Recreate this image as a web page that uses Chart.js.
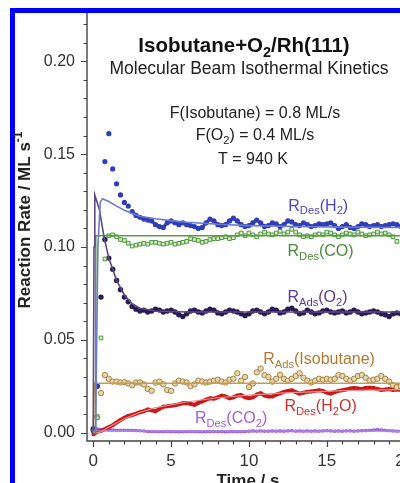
<!DOCTYPE html>
<html>
<head>
<meta charset="utf-8">
<script src="https://cdn.jsdelivr.net/npm/chart.js@4/dist/chart.umd.min.js"></script>
<style>
  html, body { margin: 0; padding: 0; background: #fff; }
  #c { display: block; }
</style>
</head>
<body>
<canvas id="c" width="400" height="483"></canvas>
<script>
// time axis (s), one sample every 0.25 s
const time = [
  0, 0.25, 0.5, 0.75, 1, 1.25, 1.5, 1.75,
  2, 2.25, 2.5, 2.75, 3, 3.25, 3.5, 3.75,
  4, 4.25, 4.5, 4.75, 5, 5.25, 5.5, 5.75,
  6, 6.25, 6.5, 6.75, 7, 7.25, 7.5, 7.75,
  8, 8.25, 8.5, 8.75, 9, 9.25, 9.5, 9.75,
  10, 10.25, 10.5, 10.75, 11, 11.25, 11.5, 11.75,
  12, 12.25, 12.5, 12.75, 13, 13.25, 13.5, 13.75,
  14, 14.25, 14.5, 14.75, 15, 15.25, 15.5, 15.75,
  16, 16.25, 16.5, 16.75, 17, 17.25, 17.5, 17.75,
  18, 18.25, 18.5, 18.75, 19, 19.25, 19.5, 19.75
];

// measured rates (ML/s)
const rDesH2 = [
  0.001, 0.025, null, 0.146, 0.161, 0.142, 0.134, 0.128,
  0.124, 0.122, 0.119, 0.117, 0.116, 0.115, 0.1145, 0.114,
  0.112, 0.111, 0.1105, 0.113, 0.114, 0.113, 0.112, 0.113,
  0.112, 0.1115, 0.111, 0.110, 0.1105, 0.113, 0.115, 0.114,
  0.112, 0.1115, 0.112, 0.114, 0.1155, 0.114, 0.112, 0.111,
  0.1115, 0.113, 0.1145, 0.113, 0.111, 0.1115, 0.113, 0.1125,
  0.111, 0.112, 0.114, 0.1135, 0.112, 0.1115, 0.113, 0.112,
  0.111, 0.1115, 0.1125, 0.112, 0.1125, 0.113, 0.1115, 0.110,
  0.111, 0.112, 0.1105, 0.110, 0.111, 0.1125, 0.112, 0.111,
  0.1115, 0.112, 0.111, 0.1115, 0.112, 0.1125, 0.112, 0.111
];
const rDesCO = [
  null, 0.008, 0.051, 0.0935, 0.106, 0.1065, 0.1055, 0.104,
  0.1035, 0.102, 0.1005, 0.101, 0.1015, 0.102, 0.1015, 0.1025,
  0.1025, 0.102, 0.1015, 0.102, 0.1025, 0.1015, 0.102, 0.1025,
  0.103, 0.1045, 0.104, 0.1035, 0.1025, 0.103, 0.104, 0.1045,
  0.1045, 0.105, 0.1055, 0.1045, 0.105, 0.1065, 0.1075, 0.106,
  0.1075, 0.1065, 0.1055, 0.107, 0.108, 0.107, 0.1065, 0.1075,
  0.1085, 0.107, 0.108, 0.1095, 0.108, 0.1065, 0.1055, 0.106,
  0.1055, 0.1065, 0.107, 0.1065, 0.108, 0.1075, 0.1065, 0.1055,
  0.1065, 0.1075, 0.107, 0.1065, 0.108, 0.107, 0.106, 0.1065,
  0.107, 0.108, 0.107, 0.1075, 0.1065, 0.1055, 0.103, null
];
const rAdsO2 = [
  0.002, 0.025, 0.073, 0.104, 0.094, 0.088, 0.082, 0.077,
  0.073, 0.0705, 0.068, 0.0665, 0.0655, 0.066, 0.065, 0.0655,
  0.0665, 0.066, 0.065, 0.0655, 0.066, 0.065, 0.0635, 0.0625,
  0.064, 0.0655, 0.066, 0.065, 0.0645, 0.0655, 0.0665, 0.066,
  0.0645, 0.064, 0.065, 0.066, 0.0655, 0.065, 0.064, 0.063,
  0.064, 0.0655, 0.066, 0.065, 0.064, 0.065, 0.0665, 0.066,
  0.0645, 0.065, 0.0665, 0.067, 0.0655, 0.064, 0.0645, 0.066,
  0.065, 0.064, 0.0645, 0.0655, 0.066, 0.065, 0.0645, 0.065,
  0.0655, 0.0645, 0.065, 0.066, 0.065, 0.064, 0.0645, 0.065,
  0.0655, 0.065, 0.064, 0.0635, 0.0625, 0.064, 0.0645, 0.064
];
const rAdsIso = [
  null, 0.0085, 0.0213, 0.031, 0.029, 0.0275, 0.0275, 0.027,
  0.0272, 0.0265, 0.0255, 0.027, 0.027, 0.026, 0.0235, 0.0225,
  0.027, 0.0275, 0.026, 0.023, 0.0225, 0.0265, 0.028, 0.0275,
  0.027, 0.025, 0.026, 0.028, 0.0275, 0.027, 0.0275, 0.028,
  0.0285, 0.0275, 0.027, 0.0285, 0.029, 0.032, 0.028, 0.030,
  0.0245, 0.0265, 0.0325, 0.0345, 0.031, 0.030, 0.0275, 0.029,
  0.0312, 0.029, 0.028, 0.029, 0.0305, 0.032, 0.0295, 0.028,
  0.027, 0.028, 0.029, 0.0285, 0.029, 0.0285, 0.029, 0.031,
  0.0305, 0.029, 0.028, 0.029, 0.0305, 0.031, 0.0295, 0.028,
  0.0285, 0.029, 0.0305, 0.029, 0.0275, 0.0255, 0.0245, 0.025
];
const rDesH2O = [
  -0.001, 0.0005, 0.001, 0.002, 0.003, 0.004, 0.0055, 0.0068,
  0.008, 0.009, 0.0095, 0.0102, 0.011, 0.0115, 0.0125, 0.012,
  0.0115, 0.0128, 0.014, 0.0142, 0.0145, 0.0148, 0.0152, 0.0158,
  0.016, 0.0155, 0.015, 0.016, 0.0168, 0.0178, 0.0185, 0.0183,
  0.019, 0.020, 0.0195, 0.0185, 0.019, 0.020, 0.0202, 0.019,
  0.0185, 0.019, 0.0205, 0.0212, 0.020, 0.0195, 0.0195, 0.0205,
  0.0212, 0.022, 0.0225, 0.0228, 0.0218, 0.021, 0.0215, 0.022,
  0.0222, 0.0225, 0.0228, 0.0225, 0.0215, 0.021, 0.0218, 0.0225,
  0.0228, 0.0232, 0.0238, 0.024, 0.0238, 0.0235, 0.024, 0.0242,
  0.024, 0.0235, 0.023, 0.0232, 0.0235, 0.023, 0.0232, 0.023
];
const rDesCO2 = [
  0.0025, 0.002, 0.0015, 0.0015, 0.0014, 0.0014, 0.0013, 0.0013,
  0.0013, 0.0012, 0.0012, 0.0011, 0.001, 0.0009, 0.0007, 0.0006,
  0.0006, 0.0005, 0.0005, 0.0006, 0.0005, 0.0005, 0.0004, 0.0005,
  0.0005, 0.0006, 0.0005, 0.0005, 0.0004, 0.0005, 0.0005, 0.0006,
  0.0005, 0.0005, 0.0004, 0.0005, 0.0006, 0.0005, 0.0005, 0.0006,
  0.0008, 0.0009, 0.0008, 0.0009, 0.0008, 0.0008, 0.0009, 0.0008,
  0.0009, 0.0008, 0.0009, 0.001, 0.0008, 0.0009, 0.0008, 0.0009,
  0.0008, 0.0009, 0.0008, 0.0009, 0.001, 0.0009, 0.0008, 0.0009,
  0.0008, 0.0009, 0.0009, 0.0008, 0.0009, 0.001, 0.0011, 0.0012,
  0.0014, 0.0016, 0.0014, 0.0012, 0.001, 0.0009, 0.0008, 0.0008
];

// model curves
const h2FitT = [0, 0.15, 0.3, 0.45, 0.6, 1, 1.5, 2, 2.5, 3, 4, 5, 6, 8, 10, 13, 16, 20];
const h2FitV = [0, 0.002, 0.1, 0.124, 0.126, 0.1245, 0.122, 0.1198, 0.118, 0.1165, 0.1152, 0.1142, 0.1133, 0.1122, 0.1115, 0.111, 0.1107, 0.1105];
const o2FitT = [0, 0.05, 0.1, 0.4, 0.7, 1, 1.5, 2, 2.5, 3, 4, 6, 20];
const o2FitV = [0, 0.1, 0.128, 0.12, 0.105, 0.094, 0.082, 0.074, 0.0695, 0.067, 0.0655, 0.065, 0.065];
const coFitT = [0, 0.12, 0.16, 20];
const coFitV = [0, 0, 0.106, 0.106];
const isoFitT = [0, 0.04, 0.07, 20];
const isoFitV = [0, 0, 0.0266, 0.0266];
const h2oFitT = [0, 0.4, 1, 2, 3, 4, 6, 8, 10, 12, 14, 16, 20];
const h2oFitV = [0, 0, 0.003, 0.0075, 0.011, 0.0135, 0.0165, 0.0188, 0.0202, 0.0213, 0.022, 0.0226, 0.0232];
const co2FitT = [0, 0.2, 20];
const co2FitV = [0, 0.001, 0.0008];

const xTicks = [0, 5, 10, 15, 20];
const yTicks = [0, 0.05, 0.10, 0.15, 0.20];

const FONT = '"Liberation Sans", Arial, Helvetica, sans-serif';
Chart.defaults.font.family = FONT;

const pts = (xs, ys) => xs.map((x, i) => ({ x: x, y: ys[i] }));

// rich text: [text, 0 normal | 1 subscript | 2 superscript]
function drawRich(ctx, parts, cx, cy, size, weight, color) {
  const sub = size * 0.7;
  let w = 0;
  parts.forEach(p => {
    ctx.font = weight + ' ' + (p[1] ? sub : size) + 'px ' + FONT;
    w += ctx.measureText(p[0]).width;
  });
  let x = cx - w / 2;
  ctx.fillStyle = color;
  ctx.textBaseline = 'middle';
  ctx.textAlign = 'left';
  parts.forEach(p => {
    ctx.font = weight + ' ' + (p[1] ? sub : size) + 'px ' + FONT;
    const dy = p[1] === 1 ? size * 0.32 : (p[1] === 2 ? -size * 0.35 : 0);
    ctx.fillText(p[0], x, cy + dy);
    x += ctx.measureText(p[0]).width;
  });
  return w;
}

const seriesLabels = [
  { parts: [['R', 0], ['Des', 1], ['(H', 0], ['2', 1], [')', 0]], t: 14.45, v: 0.122, color: '#4a46c4' },
  { parts: [['R', 0], ['Des', 1], ['(CO)', 0]], t: 14.6, v: 0.0974, color: '#4c8a3c' },
  { parts: [['R', 0], ['Ads', 1], ['(O', 0], ['2', 1], [')', 0]], t: 14.4, v: 0.0727, color: '#5a3a92' },
  { parts: [['R', 0], ['Ads', 1], ['(Isobutane)', 0]], t: 14.5, v: 0.0395, color: '#b07a32' },
  { parts: [['R', 0], ['Des', 1], ['(H', 0], ['2', 1], ['O)', 0]], t: 14.6, v: 0.0138, color: '#cc3030' },
  { parts: [['R', 0], ['Des', 1], ['(CO', 0], ['2', 1], [')', 0]], t: 8.85, v: 0.0073, color: '#a05ee0' }
];

const framePlugin = {
  id: 'frame',
  beforeDraw(chart) {
    const ctx = chart.ctx;
    ctx.save();
    ctx.fillStyle = '#ffffff';
    ctx.fillRect(0, 0, chart.width, chart.height);
    ctx.fillStyle = '#0000ff';
    ctx.fillRect(10, 8, 5, chart.height - 8);
    ctx.fillRect(10, 8, chart.width - 10, 5);
    ctx.restore();
  },
  afterDraw(chart) {
    const ctx = chart.ctx;
    const a = chart.chartArea;
    const xs = chart.scales.x, ys = chart.scales.y;
    ctx.save();
    ctx.strokeStyle = '#444';
    ctx.lineWidth = 1.4;
    ctx.beginPath();
    ctx.moveTo(a.left, a.top);
    ctx.lineTo(a.left, a.bottom);
    ctx.lineTo(a.right, a.bottom);
    ctx.stroke();
    ctx.lineWidth = 1.2;
    ctx.beginPath();
    for (let i = 0; i * 0.01 <= ys.max; i++) {
      const py = Math.round(ys.getPixelForValue(i * 0.01)) + 0.5;
      const len = i % 5 === 0 ? 6 : 3.5;
      ctx.moveTo(a.left, py);
      ctx.lineTo(a.left - len, py);
    }
    for (let i = 0; i <= xs.max; i++) {
      const px = Math.round(xs.getPixelForValue(i)) + 0.5;
      const len = i % 5 === 0 ? 6 : 3.5;
      ctx.moveTo(px, a.bottom);
      ctx.lineTo(px, a.bottom + len);
    }
    ctx.stroke();

    // titles and notes
    drawRich(ctx, [['Isobutane+O', 0], ['2', 1], ['/Rh(111)', 0]], 244, 46, 20.5, 'bold', '#111');
    drawRich(ctx, [['Molecular Beam Isothermal Kinetics', 0]], 249, 69, 17.5, 'normal', '#222');
    drawRich(ctx, [['F(Isobutane) = 0.8 ML/s', 0]], 255, 114, 16, 'normal', '#222');
    drawRich(ctx, [['F(O', 0], ['2', 1], [') = 0.4 ML/s', 0]], 255, 136, 16, 'normal', '#222');
    drawRich(ctx, [['T = 940 K', 0]], 253, 160, 16, 'normal', '#222');

    seriesLabels.forEach(l => {
      drawRich(ctx, l.parts, xs.getPixelForValue(l.t), ys.getPixelForValue(l.v), 16, 'normal', l.color);
    });

    // axis titles
    ctx.save();
    ctx.translate(25, 220);
    ctx.rotate(-Math.PI / 2);
    drawRich(ctx, [['Reaction Rate / ML s', 0], ['-1', 2]], 0, 0, 17, 'bold', '#222');
    ctx.restore();
    drawRich(ctx, [['Time / s', 0]], 248, 481, 17, 'bold', '#222');
    ctx.restore();
  }
};

const hideEarly = (color, tCut) => ({
  borderColor: c => (c.p0.parsed.x < tCut ? 'rgba(0,0,0,0)' : color)
});

new Chart(document.getElementById('c'), {
  type: 'scatter',
  data: {
    datasets: [
      { label: 'H2 fit', data: pts(h2FitT, h2FitV), showLine: true, pointRadius: 0, borderColor: '#6d7ad2', borderWidth: 1.6, order: 1 },
      { label: 'O2 fit', data: pts(o2FitT, o2FitV), showLine: true, pointRadius: 0, borderColor: '#5b4a86', borderWidth: 1.6, order: 1 },
      { label: 'CO fit', data: pts(coFitT, coFitV), showLine: true, pointRadius: 0, borderColor: '#5b9a4a', borderWidth: 1.6, order: 1 },
      { label: 'Iso fit', data: pts(isoFitT, isoFitV), showLine: true, pointRadius: 0, borderColor: '#c89a52', borderWidth: 1.6, order: 1 },
      { label: 'H2O fit', data: pts(h2oFitT, h2oFitV), showLine: true, pointRadius: 0, borderColor: '#e89090', borderWidth: 1.2, order: 1 },
      { label: 'CO2 fit', data: pts(co2FitT, co2FitV), showLine: true, pointRadius: 0, borderColor: '#b588e6', borderWidth: 1.2, order: 1 },
      { label: 'RDes(H2)', data: pts(time, rDesH2), showLine: true, borderColor: '#2f3db6', borderWidth: 3,
        segment: hideEarly('#2f3db6', 2.4), pointRadius: 2.6, pointBackgroundColor: '#2f3db6', pointBorderWidth: 0, order: 2 },
      { label: 'RDes(CO)', data: pts(time, rDesCO), showLine: false, pointStyle: 'rect', pointRadius: 2.6,
        pointBackgroundColor: '#dbe9c8', pointBorderColor: '#4f9a3e', pointBorderWidth: 1, order: 2 },
      { label: 'RAds(O2)', data: pts(time, rAdsO2), showLine: true, borderColor: '#2a1a52', borderWidth: 3,
        segment: hideEarly('#2a1a52', 2.4), pointRadius: 2.7, pointBackgroundColor: '#2a1a52', pointBorderWidth: 0, order: 2 },
      { label: 'RAds(Isobutane)', data: pts(time, rAdsIso), showLine: false, pointStyle: 'circle', pointRadius: 2.7,
        pointBackgroundColor: '#e6d6b0', pointBorderColor: '#a8843e', pointBorderWidth: 1, order: 2 },
      { label: 'RDes(H2O)', data: pts(time, rDesH2O), showLine: true, borderColor: '#d42222', borderWidth: 4,
        pointRadius: 1.8, pointBackgroundColor: '#c41818', pointBorderWidth: 0, order: 2 },
      { label: 'RDes(CO2)', data: pts(time, rDesCO2), showLine: true, borderColor: '#9a5ad8', borderWidth: 2.2,
        pointStyle: 'rect', pointRadius: 1.7, pointBackgroundColor: '#b184e6', pointBorderColor: '#8a48cc', pointBorderWidth: 0.6, order: 2 }
    ]
  },
  options: {
    responsive: false,
    animation: false,
    events: [],
    layout: { padding: { top: 13, right: 0, left: 0, bottom: 0 }, autoPadding: false },
    plugins: { legend: { display: false }, tooltip: { enabled: false } },
    elements: { line: { tension: 0 } },
    scales: {
      x: {
        type: 'linear', min: -0.4, max: 19.7,
        afterBuildTicks: s => { s.ticks = xTicks.map(v => ({ value: v })); },
        afterFit: s => { s.height = 42; s.paddingLeft = 0; s.paddingRight = 0; },
        grid: { display: false, drawTicks: false },
        border: { display: false },
        ticks: { autoSkip: false, maxRotation: 0, padding: 10, color: '#333', font: { size: 17 },
          callback: v => String(v) }
      },
      y: {
        type: 'linear', min: -0.0045, max: 0.226,
        afterBuildTicks: s => { s.ticks = yTicks.map(v => ({ value: v })); },
        afterFit: s => { s.width = 87; s.paddingTop = 0; s.paddingBottom = 0; },
        grid: { display: false, drawTicks: false },
        border: { display: false },
        ticks: { autoSkip: false, padding: 12, color: '#333', font: { size: 16 },
          callback: v => v.toFixed(2) }
      }
    }
  },
  plugins: [framePlugin]
});
</script>
</body>
</html>
